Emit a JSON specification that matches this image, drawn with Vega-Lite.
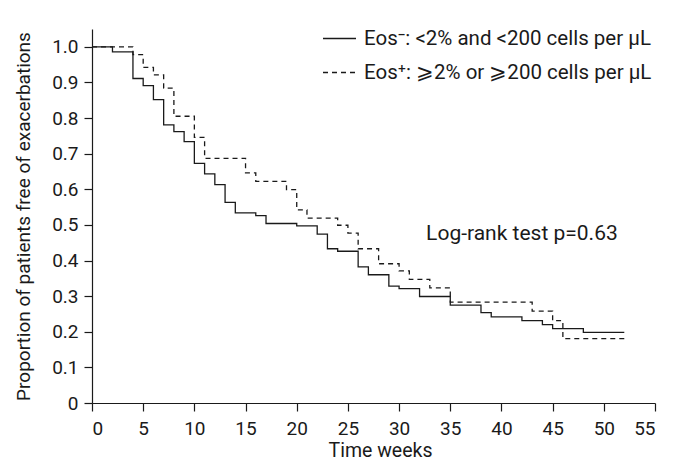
{
  "$schema": "https://vega.github.io/schema/vega-lite/v6.json",
  "autosize": {"type": "none"},
  "width": 563,
  "height": 374,
  "padding": {"left": 92, "top": 29, "right": 23, "bottom": 59},
  "background": "white",
  "config": {
    "font": "Roboto",
    "view": {"stroke": null},
    "axis": {"domainColor": "#1a1a1a", "tickColor": "#1a1a1a", "labelColor": "#1a1a1a", "titleColor": "#1a1a1a", "grid": false, "labelFontSize": 19, "titleFontSize": 19, "titleFontWeight": "normal", "tickSize": 8, "domainWidth": 1.2, "tickWidth": 1.2, "labelOverlap": false}
  },
  "datasets": {
    "km": [
      {"week": 0, "p": 1.0, "group": "neg"},
      {"week": 2, "p": 0.986, "group": "neg"},
      {"week": 4, "p": 0.911, "group": "neg"},
      {"week": 5, "p": 0.891, "group": "neg"},
      {"week": 6, "p": 0.852, "group": "neg"},
      {"week": 7, "p": 0.781, "group": "neg"},
      {"week": 8, "p": 0.762, "group": "neg"},
      {"week": 9, "p": 0.734, "group": "neg"},
      {"week": 10, "p": 0.673, "group": "neg"},
      {"week": 11, "p": 0.643, "group": "neg"},
      {"week": 12, "p": 0.613, "group": "neg"},
      {"week": 13, "p": 0.563, "group": "neg"},
      {"week": 14, "p": 0.534, "group": "neg"},
      {"week": 16, "p": 0.526, "group": "neg"},
      {"week": 17, "p": 0.504, "group": "neg"},
      {"week": 20, "p": 0.497, "group": "neg"},
      {"week": 22, "p": 0.474, "group": "neg"},
      {"week": 23, "p": 0.433, "group": "neg"},
      {"week": 24, "p": 0.426, "group": "neg"},
      {"week": 26, "p": 0.382, "group": "neg"},
      {"week": 27, "p": 0.36, "group": "neg"},
      {"week": 29, "p": 0.328, "group": "neg"},
      {"week": 30, "p": 0.321, "group": "neg"},
      {"week": 32, "p": 0.299, "group": "neg"},
      {"week": 35, "p": 0.275, "group": "neg"},
      {"week": 38, "p": 0.254, "group": "neg"},
      {"week": 39, "p": 0.242, "group": "neg"},
      {"week": 42, "p": 0.231, "group": "neg"},
      {"week": 44, "p": 0.22, "group": "neg"},
      {"week": 45, "p": 0.209, "group": "neg"},
      {"week": 48, "p": 0.198, "group": "neg"},
      {"week": 52, "p": 0.198, "group": "neg"},
      {"week": 0, "p": 1.0, "group": "pos"},
      {"week": 4, "p": 0.978, "group": "pos"},
      {"week": 5, "p": 0.942, "group": "pos"},
      {"week": 6, "p": 0.921, "group": "pos"},
      {"week": 7, "p": 0.884, "group": "pos"},
      {"week": 8, "p": 0.805, "group": "pos"},
      {"week": 10, "p": 0.746, "group": "pos"},
      {"week": 11, "p": 0.687, "group": "pos"},
      {"week": 15, "p": 0.646, "group": "pos"},
      {"week": 16, "p": 0.622, "group": "pos"},
      {"week": 19, "p": 0.599, "group": "pos"},
      {"week": 20, "p": 0.542, "group": "pos"},
      {"week": 21, "p": 0.519, "group": "pos"},
      {"week": 24, "p": 0.499, "group": "pos"},
      {"week": 25, "p": 0.477, "group": "pos"},
      {"week": 26, "p": 0.433, "group": "pos"},
      {"week": 28, "p": 0.391, "group": "pos"},
      {"week": 30, "p": 0.371, "group": "pos"},
      {"week": 31, "p": 0.347, "group": "pos"},
      {"week": 33, "p": 0.323, "group": "pos"},
      {"week": 35, "p": 0.283, "group": "pos"},
      {"week": 43, "p": 0.258, "group": "pos"},
      {"week": 45, "p": 0.231, "group": "pos"},
      {"week": 46, "p": 0.181, "group": "pos"},
      {"week": 52, "p": 0.181, "group": "pos"}
    ],
    "note": [{"week": 42, "p": 0.458, "label": "Log-rank test p=0.63"}]
  },
  "encoding": {
    "x": {"field": "week", "type": "quantitative", "scale": {"domain": [0, 55], "nice": false, "zero": true},
      "axis": {"values": [0, 5, 10, 15, 20, 25, 30, 35, 40, 45, 50, 55], "title": "Time weeks", "titleFontSize": 19.5, "labelPadding": 8, "titlePadding": 3, "titleX": 288}},
    "y": {"field": "p", "type": "quantitative", "scale": {"domain": [0, 1.05], "nice": false},
      "axis": {"values": [0, 0.1, 0.2, 0.3, 0.4, 0.5, 0.6, 0.7, 0.8, 0.9, 1.0], "labelExpr": "datum.value == 0 ? '0' : format(datum.value, '.1f')", "title": "Proportion of patients free of exacerbations", "labelPadding": 6, "titlePadding": 18, "labelOverlap": false}}
  },
  "layer": [
    {
      "data": {"name": "km"},
      "mark": {"type": "line", "interpolate": "step-after", "color": "#1a1a1a", "strokeWidth": 1.3},
      "encoding": {
        "strokeDash": {"field": "group", "type": "nominal",
          "scale": {"domain": ["neg", "pos"], "range": [[1, 0], [5, 4]]},
          "legend": {"title": null, "orient": "none", "legendX": 230, "legendY": -8, "symbolType": "stroke", "symbolSize": 1089, "symbolStrokeWidth": 1.3, "symbolStrokeColor": "#1a1a1a", "labelFontSize": 20.5, "labelColor": "#1a1a1a", "labelOffset": 7, "labelLimit": 0, "rowPadding": 6,
            "labelExpr": "datum.value == 'neg' ? 'Eos\u207b: <2% and <200 cells per \u00b5L' : '\u00a0\u00a0Eos\u207a: \u2a7e2% or \u2a7e200 cells per \u00b5L'"}}
      }
    },
    {
      "data": {"name": "note"},
      "mark": {"type": "text", "fontSize": 21, "color": "#1a1a1a", "align": "center", "baseline": "alphabetic"},
      "encoding": {
        "text": {"field": "label"}
      }
    }
  ]
}
